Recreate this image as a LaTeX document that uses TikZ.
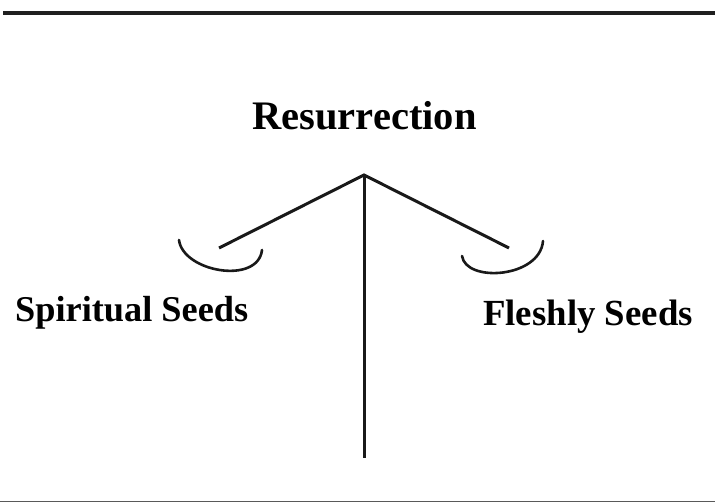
\documentclass[tikz,border=0pt]{standalone}
\usepackage{fontspec}
\setmainfont{Liberation Serif}
\begin{document}
\begin{tikzpicture}[x=1pt,y=1pt,
  lbl/.style={inner sep=0pt,font=\bfseries},
  stroke/.style={line width=3pt,black!90},
  arcline/.style={line width=2.6pt,black!90,line cap=round}]
\useasboundingbox (0,0) rectangle (715,502);
% rules
\coordinate (tl) at (3,489);
\coordinate (tr) at (715,489);
\draw[line width=4pt,black!88] (tl) -- (tr);
\coordinate (bl) at (0,0.6);
\coordinate (br) at (715,0.6);
\draw[line width=1.2pt,black!65] (bl) -- (br);
% texts
\node[lbl,anchor=base,font=\fontsize{40.5}{44}\selectfont\bfseries] (res) at (364.5,372) {Resurrection};
\node[lbl,anchor=base west,font=\fontsize{36.3}{40}\selectfont\bfseries] (spi) at (15,180) {Spiritual Seeds};
\node[lbl,anchor=base west,font=\fontsize{36.8}{40}\selectfont\bfseries] (fle) at (483,176) {Fleshly Seeds};
% balance
\coordinate (apex) at (364,327);
\coordinate (foot) at (364,44);
\coordinate (la) at (219,254);
\coordinate (ra) at (509,254);
\draw[stroke] (apex) -- (foot);
\draw[stroke,line join=miter] (la) -- (apex) -- (ra);
% pans
\coordinate (l1) at (179,262);
\coordinate (l2) at (262,252);
\coordinate (r1) at (462,246);
\coordinate (r2) at (543,261);
\draw[arcline] (l1) .. controls (183,230) and (258,217) .. (l2);
\draw[arcline] (r1) .. controls (466,219) and (540,224) .. (r2);
\end{tikzpicture}
\end{document}
